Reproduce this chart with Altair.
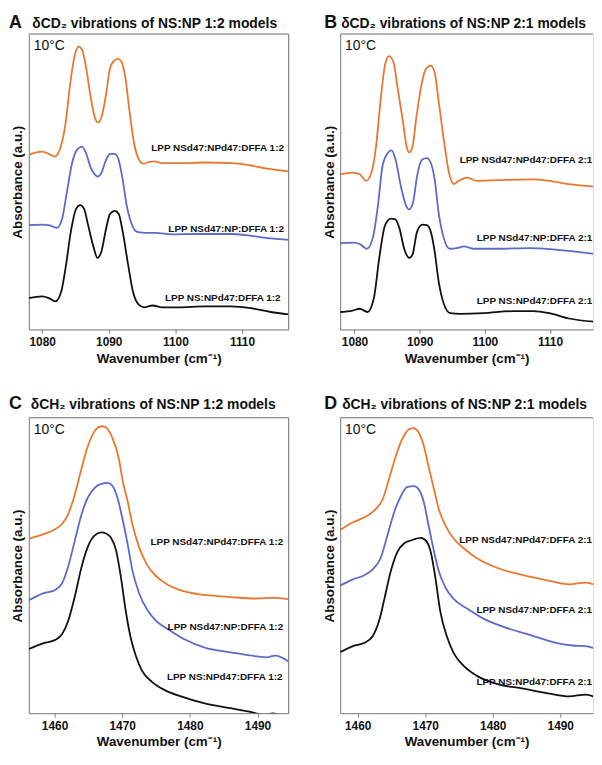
import altair as alt
import pandas as pd

FONT = "Liberation Sans, Arial, Helvetica, sans-serif"
SERIES = ["orange", "blue", "black"]
COLORS = ["#E8782E", "#5A6BC8", "#111111"]

# ---------------- Panel A : dCD2, NS:NP 1:2 ----------------
A_orange_x = [1078.0, 1080.0, 1081.0, 1081.9, 1082.8, 1083.5, 1084.2, 1084.8, 1085.5, 1086.0, 1086.6, 1087.3, 1087.9, 1088.4, 1088.9, 1089.6, 1090.1, 1090.7, 1091.4, 1091.9, 1092.5, 1093.1, 1093.8, 1094.5, 1095.2, 1096.1, 1096.8, 1098.0, 1100.5, 1104.4, 1108.4, 1110.8, 1113.8, 1117.0]
A_orange_y = [59.1, 60.2, 59.4, 58.5, 61.9, 69.6, 82.9, 91.8, 95.7, 94.6, 88.5, 78.5, 71.8, 70.0, 71.8, 79.6, 87.4, 90.7, 91.6, 90.7, 85.1, 74.1, 63.0, 57.6, 56.1, 56.7, 56.9, 56.3, 56.3, 56.5, 56.3, 55.7, 54.4, 53.5]
A_blue_x = [1078.0, 1080.0, 1081.0, 1082.2, 1083.0, 1083.7, 1084.5, 1085.3, 1086.0, 1086.6, 1087.3, 1087.9, 1088.3, 1088.9, 1089.6, 1090.2, 1090.9, 1091.4, 1092.0, 1092.7, 1093.5, 1094.3, 1095.6, 1097.0, 1099.5, 1103.4, 1108.4, 1111.3, 1114.3, 1117.0]
A_blue_y = [35.3, 35.5, 35.3, 34.4, 37.5, 46.3, 56.3, 61.0, 61.9, 59.6, 54.7, 52.5, 51.7, 53.0, 57.4, 59.4, 59.4, 58.0, 51.9, 41.9, 35.3, 33.0, 32.7, 32.7, 32.2, 32.3, 32.3, 31.7, 30.8, 30.3]
A_black_x = [1078.0, 1080.0, 1081.0, 1082.0, 1082.9, 1083.6, 1084.3, 1085.1, 1085.7, 1086.3, 1086.9, 1087.7, 1088.3, 1088.9, 1089.6, 1090.2, 1090.9, 1091.5, 1092.1, 1092.9, 1093.6, 1094.5, 1095.3, 1096.6, 1098.0, 1100.5, 1104.4, 1108.4, 1111.3, 1114.3, 1117.0]
A_black_y = [10.6, 11.2, 10.6, 9.5, 13.1, 22.0, 33.0, 40.8, 42.1, 40.8, 35.3, 28.0, 24.2, 26.4, 34.1, 39.1, 40.1, 39.1, 33.0, 22.0, 13.1, 8.4, 7.5, 8.1, 7.5, 7.5, 7.8, 7.8, 7.2, 5.9, 5.1]
A_labels = ["LPP NSd47:NPd47:DFFA 1:2", "LPP NSd47:NP:DFFA 1:2", "LPP NS:NPd47:DFFA 1:2"]
A_label_x = [1116.3, 1116.3, 1115.8]
A_label_y = [61.3, 34.1, 10.6]

# ---------------- Panel B : dCD2, NS:NP 2:1 ----------------
B_orange_x = [1077.8, 1079.7, 1080.8, 1081.8, 1082.6, 1083.3, 1084.0, 1084.7, 1085.3, 1086.0, 1086.6, 1087.4, 1088.0, 1088.4, 1088.9, 1089.5, 1090.3, 1090.9, 1091.7, 1092.3, 1092.9, 1093.7, 1094.5, 1095.2, 1096.0, 1097.3, 1098.8, 1101.8, 1106.9, 1109.9, 1112.9, 1117.1]
B_orange_y = [52.5, 53.1, 52.5, 50.3, 53.1, 61.9, 77.5, 89.7, 92.5, 90.3, 81.9, 70.8, 61.9, 59.9, 61.9, 71.9, 83.0, 88.0, 89.3, 86.9, 77.5, 64.2, 53.1, 49.2, 50.3, 51.4, 50.3, 50.5, 50.8, 50.3, 49.2, 48.3]
B_blue_x = [1077.8, 1079.7, 1080.8, 1081.9, 1082.8, 1083.6, 1084.3, 1085.1, 1085.7, 1086.3, 1087.1, 1087.9, 1088.4, 1089.0, 1089.6, 1090.4, 1091.1, 1091.7, 1092.3, 1092.9, 1093.7, 1094.6, 1095.7, 1096.8, 1098.3, 1101.8, 1106.9, 1109.9, 1112.9, 1117.1]
B_blue_y = [29.2, 29.4, 28.9, 27.3, 30.9, 42.0, 55.3, 59.7, 60.6, 57.5, 48.6, 42.0, 40.6, 43.1, 51.9, 57.5, 58.0, 56.4, 50.8, 39.7, 30.9, 27.3, 27.5, 28.1, 27.3, 27.3, 27.5, 27.2, 26.6, 25.5]
B_black_x = [1077.8, 1079.7, 1080.8, 1082.0, 1083.0, 1083.8, 1084.7, 1085.6, 1086.2, 1086.9, 1087.6, 1088.4, 1088.9, 1089.6, 1090.4, 1091.1, 1091.7, 1092.3, 1092.9, 1093.7, 1094.7, 1096.2, 1099.8, 1104.4, 1107.4, 1109.9, 1112.9, 1117.1]
B_black_y = [5.9, 6.4, 7.0, 5.9, 10.9, 24.2, 35.3, 37.5, 37.3, 34.2, 27.5, 24.2, 25.3, 33.1, 35.5, 35.3, 33.1, 26.4, 16.4, 8.7, 5.5, 5.3, 5.5, 6.2, 6.2, 5.5, 3.7, 2.6]
B_labels = ["LPP NSd47:NPd47:DFFA 2:1", "LPP NSd47:NP:DFFA 2:1", "LPP NS:NPd47:DFFA 2:1"]
B_label_x = [1116.5, 1116.5, 1116.5]
B_label_y = [57.3, 31.1, 9.5]

# ---------------- Panel C : dCH2, NS:NP 1:2 ----------------
C_orange_x = [1456.2, 1458.4, 1459.9, 1461.1, 1462.0, 1463.0, 1464.0, 1464.8, 1465.7, 1466.5, 1467.2, 1467.9, 1468.6, 1469.5, 1470.1, 1470.8, 1471.5, 1472.5, 1473.7, 1475.1, 1476.8, 1479.2, 1482.2, 1486.0, 1489.9, 1492.3, 1494.6]
C_orange_y = [59.0, 60.6, 62.0, 64.0, 67.3, 74.0, 82.9, 89.5, 94.5, 96.8, 97.1, 96.0, 92.9, 86.2, 78.4, 71.7, 64.0, 56.2, 50.1, 46.2, 43.4, 41.2, 40.0, 39.3, 38.8, 39.0, 38.6]
C_blue_x = [1456.2, 1458.4, 1460.1, 1461.1, 1462.0, 1463.0, 1464.0, 1464.9, 1465.9, 1466.9, 1467.9, 1468.6, 1469.3, 1470.0, 1470.8, 1471.5, 1472.5, 1473.7, 1475.1, 1476.8, 1479.2, 1482.2, 1486.0, 1489.9, 1491.4, 1492.6, 1494.6]
C_blue_y = [38.2, 40.6, 41.7, 43.9, 49.5, 58.4, 67.3, 72.9, 76.2, 77.6, 77.9, 76.8, 72.9, 66.2, 57.3, 48.4, 40.6, 35.0, 31.1, 28.4, 25.0, 22.2, 20.6, 19.2, 18.9, 19.5, 17.5]
C_black_x = [1456.2, 1458.4, 1460.1, 1461.1, 1462.0, 1463.0, 1464.0, 1464.9, 1465.9, 1466.9, 1467.6, 1468.3, 1469.1, 1469.8, 1470.5, 1471.2, 1472.0, 1472.9, 1474.4, 1476.3, 1478.8, 1482.2, 1486.0, 1489.4, 1490.9, 1492.3, 1493.3, 1494.6]
C_black_y = [21.7, 23.7, 24.8, 26.7, 31.1, 39.5, 49.5, 56.2, 60.1, 61.2, 60.8, 59.5, 55.1, 46.2, 35.0, 26.1, 19.5, 14.5, 10.6, 7.8, 5.6, 3.3, 1.7, 0.2, -0.6, -0.1, -0.6, -1.1]
C_labels = ["LPP NSd47:NPd47:DFFA 1:2", "LPP NSd47:NP:DFFA 1:2", "LPP NS:NPd47:DFFA 1:2"]
C_label_x = [1493.8, 1493.8, 1493.7]
C_label_y = [57.8, 29.3, 12.2]

# ---------------- Panel D : dCH2, NS:NP 2:1 ----------------
D_orange_x = [1457.4, 1459.3, 1461.0, 1462.4, 1463.7, 1464.6, 1465.6, 1466.6, 1467.6, 1468.3, 1468.9, 1469.7, 1470.5, 1471.3, 1472.0, 1473.0, 1474.2, 1475.7, 1477.6, 1480.6, 1484.5, 1488.4, 1491.3, 1493.8, 1495.5]
D_orange_y = [62.0, 64.6, 66.3, 68.5, 72.4, 79.0, 86.7, 92.8, 96.1, 96.5, 95.4, 91.2, 83.4, 75.7, 69.1, 63.5, 59.1, 55.8, 52.5, 49.2, 46.7, 44.8, 43.6, 44.2, 43.1]
D_blue_x = [1457.4, 1459.3, 1461.0, 1462.2, 1463.4, 1464.4, 1465.4, 1466.4, 1467.3, 1468.3, 1469.1, 1469.8, 1470.5, 1471.3, 1472.0, 1473.0, 1474.2, 1476.2, 1478.6, 1481.5, 1485.5, 1489.4, 1491.8, 1493.8, 1495.5]
D_blue_y = [43.2, 45.3, 46.7, 48.6, 52.5, 60.2, 68.0, 73.5, 76.5, 76.8, 75.5, 71.3, 63.5, 54.7, 48.1, 42.5, 38.7, 35.4, 32.0, 29.3, 26.5, 23.8, 22.9, 22.7, 21.5]
D_black_x = [1457.4, 1459.3, 1461.0, 1462.2, 1463.2, 1464.0, 1464.9, 1465.9, 1466.9, 1468.1, 1469.3, 1470.0, 1470.8, 1471.5, 1472.2, 1473.2, 1474.2, 1475.7, 1477.6, 1480.6, 1484.5, 1488.4, 1491.3, 1493.8, 1495.5]
D_black_y = [20.6, 22.7, 23.8, 26.0, 31.5, 39.2, 48.1, 54.7, 57.5, 58.6, 59.3, 58.6, 54.7, 45.9, 34.8, 26.0, 20.4, 16.0, 12.7, 9.9, 8.3, 6.6, 5.7, 6.3, 5.0]
D_labels = ["LPP NSd47:NPd47:DFFA 2:1", "LPP NSd47:NP:DFFA 2:1", "LPP NS:NPd47:DFFA 2:1"]
D_label_x = [1494.7, 1494.7, 1494.7]
D_label_y = [58.6, 35.0, 10.5]

CD2_ticks = [1080, 1090, 1100, 1110]
CH2_ticks = [1460, 1470, 1480, 1490]

FRAME = "#808080"


def panel(letter, title, curves, labels, label_x, label_y, domain, ticks, width, height,
          right_border, letter_dx, title_dx, title_dy):
    rows = []
    for name, (xs, ys) in zip(SERIES, curves):
        for i, (xv, yv) in enumerate(zip(xs, ys)):
            rows.append({"x": xv, "y": yv, "series": name, "order": i})
    df = pd.DataFrame(rows)
    lab = pd.DataFrame({"x": label_x, "y": label_y, "text": labels})
    one = pd.DataFrame({"a": [0]})

    xenc = alt.X("x:Q", scale=alt.Scale(domain=domain, nice=False, zero=False),
                 axis=alt.Axis(values=ticks, format="d", title="Wavenumber (cm⁻¹)",
                               labelFontSize=12, labelFontWeight="bold", labelColor="#111",
                               titleFontSize=13.5, titleFontWeight="bold", titleColor="#111",
                               tickSize=4, labelPadding=3, titlePadding=4, grid=False,
                               domainColor=FRAME, tickColor=FRAME, labelFont=FONT, titleFont=FONT))
    yenc = alt.Y("y:Q", scale=alt.Scale(domain=[0, 100], nice=False, zero=False),
                 axis=alt.Axis(labels=False, ticks=False, grid=False, title="Absorbance (a.u.)",
                               titleFontSize=13.5, titleFontWeight="bold", titleColor="#111",
                               titlePadding=4, domainColor=FRAME, titleFont=FONT))

    lines = alt.Chart(df).mark_line(interpolate="monotone", clip=True, strokeWidth=1.8).encode(
        x=xenc, y=yenc,
        color=alt.Color("series:N", scale=alt.Scale(domain=SERIES, range=COLORS), legend=None),
        order="order:Q",
    )
    texts = alt.Chart(lab).mark_text(align="right", baseline="middle", fontSize=10,
                                     fontWeight="bold", font=FONT, color="#111").encode(
        x=xenc, y=yenc, text="text:N")
    temp = alt.Chart(one).mark_text(align="left", baseline="top", fontSize=14, font=FONT,
                                    color="#111").encode(
        x=alt.value(5), y=alt.value(5), text=alt.value("10°C"))
    let = alt.Chart(one).mark_text(align="left", baseline="alphabetic", fontSize=18,
                                   fontWeight="bold", font=FONT, color="#111").encode(
        x=alt.value(letter_dx), y=alt.value(title_dy + 0.5), text=alt.value(letter))
    ttl = alt.Chart(one).mark_text(align="left", baseline="alphabetic", fontSize=14,
                                   fontWeight="bold", font=FONT, color="#111").encode(
        x=alt.value(title_dx), y=alt.value(title_dy), text=alt.value(title))
    top = alt.Chart(one).mark_rule(color=FRAME, strokeWidth=1).encode(
        x=alt.value(0), x2=alt.value(width), y=alt.value(0))
    layers = [lines, texts, temp, let, ttl, top]
    if right_border:
        layers.append(alt.Chart(one).mark_rule(color=FRAME, strokeWidth=1).encode(
            x=alt.value(width), y=alt.value(0), y2=alt.value(height)))
    return alt.layer(*layers).properties(width=width, height=height)


pA = panel("A", "δCD₂ vibrations of NS:NP 1:2 models",
           [(A_orange_x, A_orange_y), (A_blue_x, A_blue_y), (A_black_x, A_black_y)],
           A_labels, A_label_x, A_label_y, [1078.0, 1117.0], CD2_ticks, 262, 298, True, -20, 3.5, -6)
pB = panel("B", "δCD₂ vibrations of NS:NP 2:1 models",
           [(B_orange_x, B_orange_y), (B_blue_x, B_blue_y), (B_black_x, B_black_y)],
           B_labels, B_label_x, B_label_y, [1077.8, 1116.6], CD2_ticks, 255, 298, False, -16, 1, -6)
pC = panel("C", "δCH₂ vibrations of NS:NP 1:2 models",
           [(C_orange_x, C_orange_y), (C_blue_x, C_blue_y), (C_black_x, C_black_y)],
           C_labels, C_label_x, C_label_y, [1456.2, 1494.6], CH2_ticks, 262, 298, True, -20, 2, -9)
pD = panel("D", "δCH₂ vibrations of NS:NP 2:1 models",
           [(D_orange_x, D_orange_y), (D_blue_x, D_blue_y), (D_black_x, D_black_y)],
           D_labels, D_label_x, D_label_y, [1457.4, 1494.85], CH2_ticks, 255, 298, False, -16, 2, -9)

chart = alt.vconcat(
    alt.hconcat(pA, pB, spacing=32),
    alt.hconcat(pC, pD, spacing=32),
    spacing=30,
).properties(
    padding={"left": 0, "top": 3, "right": 0, "bottom": 0}
).configure_view(stroke="transparent").configure(font=FONT)

chart.save("out.html", embed_options={"renderer": "svg", "actions": False})
